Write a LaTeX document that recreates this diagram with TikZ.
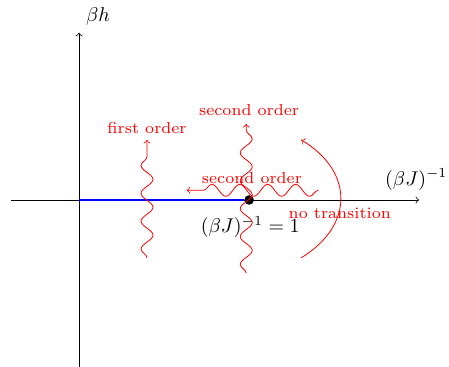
\documentclass[tikz,border=0pt]{standalone}
\usetikzlibrary{decorations.pathmorphing}
\begin{document}
\begin{tikzpicture}[
  wave/.style={red,->,decorate,decoration={snake,amplitude=3pt,segment length=14pt,post length=2pt}},
  lab/.style={red,font=\scriptsize,scale=1.14}
]
\useasboundingbox (-1.393,-2.945) rectangle (6.526,3.527);
\coordinate (xl) at (-1.2,0);
\coordinate (xr) at (6,0);
\coordinate (yb) at (0,-2.95);
\coordinate (yt) at (0,2.95);
\coordinate (o) at (0,0);
\draw[->] (xl) -- (xr);
\draw[->] (yb) -- (yt);
\node[above right] (yl) at (yt) {$\beta h$};
\node[above] (xlab) at (5.95,0.05) {$(\beta J)^{-1}$};
\node[fill,circle,inner sep=1.7pt] (d) at (3,0) {};
\draw[blue,very thick] (o) -- (d);
\node (dl) at (3.02,-0.48) {$(\beta J)^{-1}=1$};
% first order
\coordinate (f1) at (1.2,-1.02);
\coordinate (f2) at (1.2,1.06);
\draw[wave] (f1) -- (f2);
\node[lab] (fl) at (1.2,1.27) {first order};
% second order vertical
\coordinate (s1) at (2.95,-1.29);
\coordinate (s2) at (2.95,1.34);
\draw[wave] (s1) -- (s2);
\node[lab] (sl) at (3.0,1.58) {second order};
% second order horizontal
\coordinate (h1) at (4.22,0.17);
\coordinate (h2) at (1.9,0.17);
\draw[wave] (h1) -- (h2);
\node[lab] (hl) at (3.05,0.39) {second order};
% no transition
\coordinate (n1) at (3.92,-1.02);
\coordinate (n2) at (3.92,1.06);
\draw[red,->] (n1) .. controls (4.85,-0.45) and (4.85,0.5) .. (n2);
\node[lab] (nl) at (4.6,-0.23) {no transition};
\end{tikzpicture}
\end{document}
